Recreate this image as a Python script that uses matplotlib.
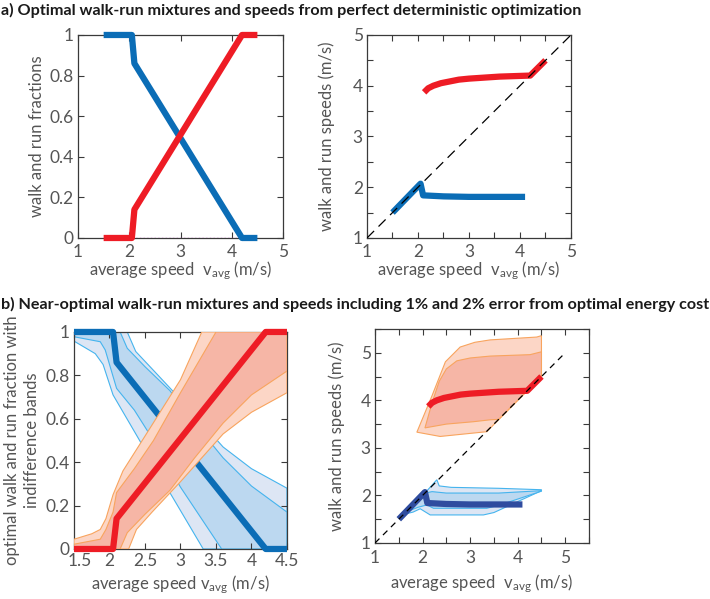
import matplotlib
matplotlib.use("Agg")
import matplotlib.pyplot as plt
from matplotlib.transforms import ScaledTranslation

# ---- data ----
# panel a / b: optimal walk and run fractions vs average speed
v_frac = [1.5, 2.05, 2.1, 4.2, 4.5]
walk_frac = [1.0, 1.0, 0.86, 0.0, 0.0]
run_frac = [0.0, 0.0, 0.14, 1.0, 1.0]
dot_x = [2.05, 4.2]
dot_y = [0.0, 0.0]

# optimal walk and run speeds
v_walk = [1.5, 2.05, 2.1, 2.5, 3.0, 3.5, 4.1]
walk_speed = [1.5, 2.07, 1.84, 1.82, 1.81, 1.81, 1.81]
v_run = [2.12, 2.2, 2.3, 2.45, 2.6, 2.8, 3.0, 3.3, 3.6, 3.9, 4.2, 4.5]
run_speed = [3.87, 3.95, 4.0, 4.05, 4.08, 4.12, 4.14, 4.16, 4.18, 4.19, 4.2, 4.5]
diag = [1, 5]

# panel b left: indifference bands on the walk fraction (2% outer, 1% inner)
wo_up_x = [1.5, 2.25, 2.37, 2.6, 3.0, 3.3, 3.6, 4.0, 4.5]
wo_up_y = [1.0, 1.0, 0.91, 0.83, 0.69, 0.58, 0.47, 0.37, 0.28]
wo_lo_x = [1.5, 1.8, 1.91, 2.05, 2.38, 2.85, 3.32, 4.5]
wo_lo_y = [0.958, 0.9, 0.85, 0.71, 0.525, 0.26, 0.0, 0.0]
wi_up_x = [1.5, 2.15, 2.25, 2.5, 2.85, 3.2, 3.6, 4.0, 4.5]
wi_up_y = [1.0, 1.0, 0.925, 0.84, 0.73, 0.58, 0.42, 0.29, 0.17]
wi_lo_x = [1.5, 1.87, 1.94, 2.1, 2.35, 2.62, 3.0, 3.58, 4.5]
wi_lo_y = [0.978, 0.955, 0.917, 0.74, 0.64, 0.5, 0.285, 0.0, 0.0]

# panel b left: indifference bands on the run fraction
ro_up_x = [1.5, 1.75, 1.87, 1.95, 2.05, 2.19, 2.5, 3.0, 3.3, 4.5]
ro_up_y = [0.045, 0.07, 0.09, 0.14, 0.25, 0.36, 0.52, 0.78, 1.0, 1.0]
ro_lo_x = [1.5, 2.27, 2.38, 2.6, 3.0, 3.3, 3.6, 4.0, 4.5]
ro_lo_y = [0.0, 0.0, 0.09, 0.17, 0.31, 0.42, 0.53, 0.63, 0.72]
ri_up_x = [1.5, 1.87, 1.95, 2.05, 2.1, 2.35, 2.62, 3.0, 3.5, 4.5]
ri_up_y = [0.022, 0.045, 0.09, 0.17, 0.26, 0.37, 0.5, 0.72, 1.0, 1.0]
ri_lo_x = [1.5, 2.15, 2.25, 2.5, 2.85, 3.2, 3.6, 4.0, 4.5]
ri_lo_y = [0.0, 0.0, 0.075, 0.16, 0.27, 0.42, 0.58, 0.71, 0.82]

# panel b right: speed bands
rso_up_x = [1.88, 2.2, 2.48, 2.79, 3.1, 3.42, 4.4, 4.5]
rso_up_y = [3.33, 4.1, 4.81, 5.12, 5.22, 5.27, 5.33, 5.36]
rso_lo_x = [1.88, 2.37, 3.35, 4.2, 4.5]
rso_lo_y = [3.33, 3.24, 3.34, 4.2, 4.5]
rsi_up_x = [2.05, 2.2, 2.35, 2.5, 2.72, 3.0, 3.42, 4.26, 4.5]
rsi_up_y = [3.42, 3.95, 4.4, 4.66, 4.83, 4.89, 4.93, 4.96, 5.02]
rsi_lo_x = [2.05, 2.5, 3.07, 3.42, 3.6, 4.2, 4.5]
rsi_lo_y = [3.42, 3.5, 3.55, 3.59, 3.6, 4.2, 4.5]

wso_up_x = [1.6, 2.05, 2.3, 2.35, 2.6, 3.6, 4.5]
wso_up_y = [1.6, 2.05, 2.33, 2.2, 2.17, 2.15, 2.12]
wso_lo_x = [1.6, 1.8, 1.95, 2.16, 3.28, 3.5, 4.5]
wso_lo_y = [1.6, 1.65, 1.72, 1.59, 1.59, 1.64, 2.1]
wsi_up_x = [1.65, 2.05, 2.2, 2.5, 3.6, 4.5]
wsi_up_y = [1.65, 2.05, 2.08, 2.05, 2.05, 2.1]
wsi_lo_x = [1.65, 1.9, 2.09, 2.23, 3.35, 3.63, 4.5]
wsi_lo_y = [1.65, 1.75, 1.8, 1.73, 1.73, 1.8, 2.09]

# ---- style ----
plt.rcParams['font.family'] = ['Lato', 'DejaVu Sans']
plt.rcParams['mathtext.fontset'] = 'custom'
plt.rcParams['mathtext.rm'] = 'Lato'
plt.rcParams['mathtext.it'] = 'Lato'

blue = '#0b6db6'
navy = '#2f4c9f'
red = '#ee1c25'
txt = '#555555'
edge = '#3a3a3a'
b_out = '#dde6f4'
b_in = '#bcd8f0'
b_line = '#45b4ee'
r_out = '#fcd6c6'
r_in = '#f6b6a6'
r_line = '#f8a45e'
xlab = r'average speed  v$_{\rm avg}$ (m/s)'
LS = 12     # label size
TS = 12.5   # tick size


def style(ax):
    for s in ax.spines.values():
        s.set_color(edge)
        s.set_linewidth(0.9)
    ax.tick_params(which='both', direction='in', top=True, right=True,
                   length=4, width=0.8, color=edge, labelcolor=txt, labelsize=TS)
    ax.tick_params(axis='y', pad=3)
    ax.tick_params(axis='x', pad=4)


def band(ax, ux, uy, lx, ly, face, line):
    px = list(ux) + list(lx[::-1])
    py = list(uy) + list(ly[::-1])
    ax.fill(px, py, facecolor=face, edgecolor=line, linewidth=0.8)


fig = plt.figure(figsize=(7.1, 5.99), dpi=100)

# a) left
ax1 = fig.add_axes([0.1099, 0.6027, 0.2887, 0.3389])
ax1.plot(dot_x, dot_y, color='#cc44cc', lw=1, ls=':', zorder=3)
ax1.plot(v_frac, walk_frac, color=blue, lw=4.5, solid_capstyle='butt', clip_on=False, zorder=4)
ax1.plot(v_frac, run_frac, color=red, lw=4.5, solid_capstyle='butt', clip_on=False, zorder=5)
ax1.set_xlim(1, 5)
ax1.set_ylim(0, 1)
ax1.set_xticks([1, 2, 3, 4, 5])
ax1.set_yticks([0, 0.2, 0.4, 0.6, 0.8, 1])
ax1.set_yticklabels(['0', '0.2', '0.4', '0.6', '0.8', '1'])
ax1.set_xlabel(xlab, color=txt, fontsize=LS, labelpad=0)
ax1.set_ylabel('walk and run fractions', color=txt, fontsize=LS, labelpad=3)
style(ax1)

# a) right
ax2 = fig.add_axes([0.5169, 0.6027, 0.2873, 0.3389])
ax2.plot(v_walk, walk_speed, color=blue, lw=4.5, solid_capstyle='butt', zorder=4)
ax2.plot(v_run, run_speed, color=red, lw=4.5, solid_capstyle='butt', zorder=4)
ax2.plot(diag, diag, color='black', lw=0.9, ls=(0, (8, 5)), zorder=6)
ax2.set_xlim(1, 5)
ax2.set_ylim(1, 5)
ax2.set_xticks([1, 2, 3, 4, 5])
ax2.set_yticks([1, 2, 3, 4, 5])
ax2.set_xticks([1.5, 2.5, 3.5, 4.5], minor=True)
ax2.set_yticks([1.5, 2.5, 3.5, 4.5], minor=True)
ax2.set_xlabel(xlab, color=txt, fontsize=LS, labelpad=0)
ax2.set_ylabel('walk and run speeds (m/s)', color=txt, fontsize=LS, labelpad=13)
style(ax2)

# b) left
ax3 = fig.add_axes([0.1042, 0.0835, 0.3, 0.3623])
band(ax3, wo_up_x, wo_up_y, wo_lo_x, wo_lo_y, b_out, b_line)
band(ax3, wi_up_x, wi_up_y, wi_lo_x, wi_lo_y, b_in, b_line)
ax3.plot(v_frac, walk_frac, color=blue, lw=4.5, solid_capstyle='butt', clip_on=False, zorder=3)
band(ax3, ro_up_x, ro_up_y, ro_lo_x, ro_lo_y, r_out, r_line)
band(ax3, ri_up_x, ri_up_y, ri_lo_x, ri_lo_y, r_in, r_line)
for p in ax3.patches[2:]:
    p.set_zorder(3.5)
ax3.plot(v_frac, run_frac, color=red, lw=4.5, solid_capstyle='butt', clip_on=False, zorder=4)
ax3.set_xlim(1.5, 4.5)
ax3.set_ylim(0, 1)
ax3.set_xticks([1.5, 2, 2.5, 3, 3.5, 4, 4.5])
ax3.set_xticklabels(['1.5', '2', '2.5', '3', '3.5', '4', '4.5'])
ax3.set_yticks([0, 0.2, 0.4, 0.6, 0.8, 1])
ax3.set_yticklabels(['0', '0.2', '0.4', '0.6', '0.8', '1'])
ax3.set_xlabel(r'average speed v$_{\rm avg}$ (m/s)', color=txt, fontsize=LS, labelpad=3)
ax3.set_ylabel('optimal walk and run fraction with\nindifference bands', color=txt,
               fontsize=LS, labelpad=4, linespacing=1.3)
style(ax3)
ax3.tick_params(axis='x', pad=3)
# the first x label sits a little right of its tick, clear of the "0"
lab0 = ax3.xaxis.get_major_ticks()[0].label1
lab0.set_transform(lab0.get_transform() + ScaledTranslation(6 / 100, 0, fig.dpi_scale_trans))

# b) right
ax4 = fig.add_axes([0.5282, 0.0935, 0.3014, 0.3573])
band(ax4, rso_up_x, rso_up_y, rso_lo_x, rso_lo_y, r_out, r_line)
band(ax4, rsi_up_x, rsi_up_y, rsi_lo_x, rsi_lo_y, r_in, r_line)
band(ax4, wso_up_x, wso_up_y, wso_lo_x, wso_lo_y, b_out, b_line)
band(ax4, wsi_up_x, wsi_up_y, wsi_lo_x, wsi_lo_y, b_in, b_line)
ax4.plot(v_walk, walk_speed, color=navy, lw=4.5, solid_capstyle='butt', zorder=4)
ax4.plot(v_run, run_speed, color=red, lw=4.5, solid_capstyle='butt', zorder=4)
ax4.plot(diag, diag, color='black', lw=0.9, ls=(0, (5, 4)), zorder=6)
ax4.set_xlim(1, 5.5)
ax4.set_ylim(1, 5.5)
ax4.set_xticks([1, 2, 3, 4, 5])
ax4.set_yticks([1, 2, 3, 4, 5])
ax4.set_xticks([1.5, 2.5, 3.5, 4.5, 5.5], minor=True)
ax4.set_yticks([1.5, 2.5, 3.5, 4.5, 5.5], minor=True)
ax4.set_xlabel(xlab, color=txt, fontsize=LS, labelpad=5)
ax4.set_ylabel('walk and run speeds (m/s)', color=txt, fontsize=LS, labelpad=11)
style(ax4)
ax4.tick_params(axis='x', pad=5)

fig.text(0.002, 0.983, 'a) Optimal walk-run mixtures and speeds from perfect deterministic optimization',
         fontsize=11.6, fontweight='bold', color='#1a1a1a', va='center', ha='left')
fig.text(0.002, 0.491, 'b) Near-optimal walk-run mixtures and speeds including 1% and 2% error from optimal energy cost',
         fontsize=11.6, fontweight='bold', color='#1a1a1a', va='center', ha='left')

fig.savefig('out.png', dpi=100)
